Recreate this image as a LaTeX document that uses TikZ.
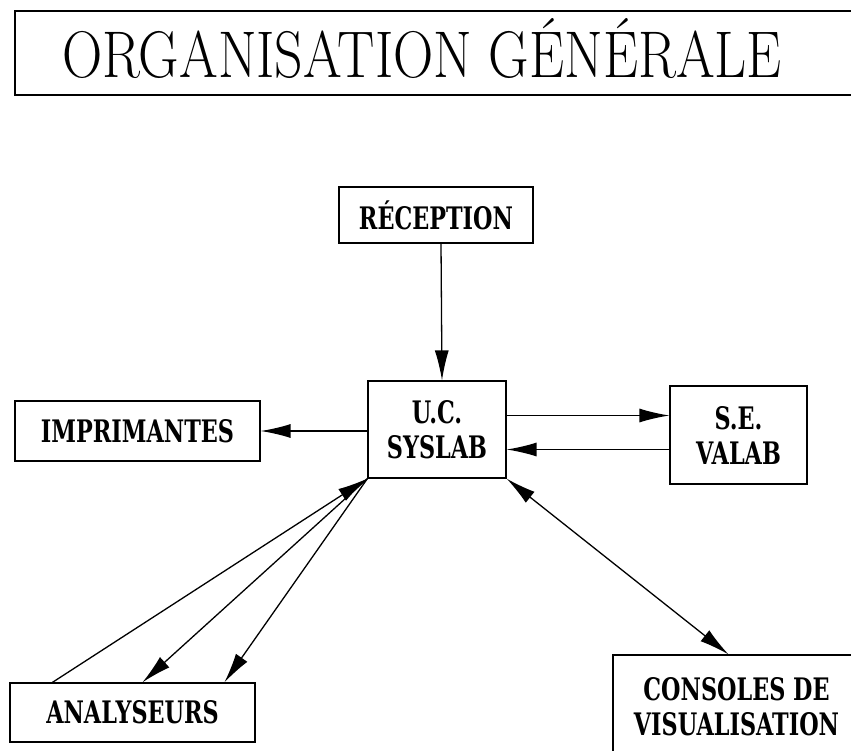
\documentclass[tikz,border=0pt]{standalone}
\usepackage{graphicx}
\usepackage{fontspec}
\newfontfamily\boxfont{DejaVu Serif}[FakeStretch=0.72]
\usetikzlibrary{arrows.meta}
\begin{document}
\begin{tikzpicture}[x=1pt,y=-1pt,
  box/.style={draw,line width=1.2pt,font=\boxfont\bfseries\fontsize{31}{35}\selectfont,align=center,inner sep=0pt},
  arr/.style={line width=1.3pt,-{Latex[length=30pt,width=14pt]}},
  darr/.style={line width=1.3pt,{Latex[length=30pt,width=14pt]}-{Latex[length=30pt,width=14pt]}}]
\useasboundingbox (0,0) rectangle (851,751);
\clip (0,0) rectangle (851,751);
% title
\draw[line width=1.2pt] (15,11) rectangle (870,95);
\node[anchor=base,inner sep=0pt] (title) at (422,78) {\scalebox{0.845}[1]{\fontsize{66}{66}\selectfont ORGANISATION GÉNÉRALE}};
% boxes
\node[box,minimum width=194pt,minimum height=56pt] (rec) at (436,215) {RÉCEPTION};
\node[box,minimum width=138pt,minimum height=97pt] (uc) at (437,429.5) {U.C.\\SYSLAB};
\node[box,minimum width=245pt,minimum height=60pt] (imp) at (137.5,431) {IMPRIMANTES};
\node[box,minimum width=137pt,minimum height=98pt] (se) at (738.5,435) {S.E.\\VALAB};
\node[box,minimum width=245pt,minimum height=59pt] (ana) at (132.5,712.5) {ANALYSEURS};
\node[box,minimum width=247pt,minimum height=104pt] (cons) at (736.5,707) {CONSOLES DE\\VISUALISATION};
% connectors
\draw[arr] ([xshift=5pt]rec.south) -- ([xshift=5pt]uc.north);
\draw[arr] (uc.west |- imp.east) -- (imp.east);
\draw[arr] ([yshift=14pt]uc.east) -- ([yshift=14pt]uc.east -| se.west);
\draw[arr] ([yshift=-20pt]uc.east -| se.west) -- ([yshift=-20pt]uc.east);
\draw[darr] (uc.south east) -- ([xshift=-8pt]cons.north);
\draw[arr] ([xshift=43pt]ana.north west) -- (uc.south west);
\draw[arr] (uc.south west) -- ([xshift=133pt]ana.north west);
\draw[arr] (uc.south west) -- ([xshift=215pt]ana.north west);
\end{tikzpicture}
\end{document}
